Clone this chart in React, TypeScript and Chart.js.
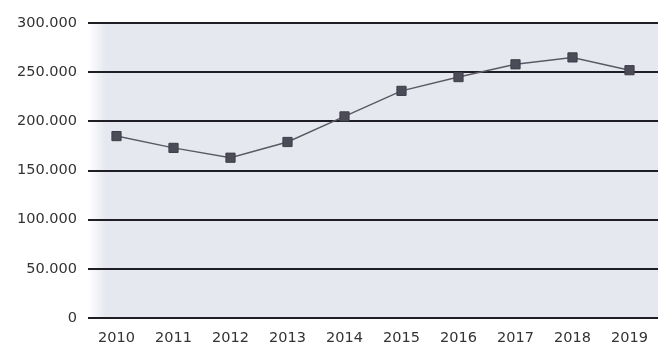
import React, { useEffect, useRef } from "react";
import { Chart, registerables } from "chart.js";

Chart.register(...registerables);

const years = ["2010", "2011", "2012", "2013", "2014", "2015", "2016", "2017", "2018", "2019"];
const values = [185000, 173000, 163000, 179000, 205000, 231000, 245000, 258000, 265000, 252000];
const yTicks = [0, 50000, 100000, 150000, 200000, 250000, 300000];

const fmt = (v: number) => (v === 0 ? "0" : String(v).replace(/\B(?=(\d{3})+(?!\d))/g, "."));

const bgPlugin = {
  id: "plotBg",
  beforeDraw(chart: any) {
    const { ctx, chartArea } = chart;
    const { left, right, top, bottom } = chartArea;
    ctx.save();
    const g = ctx.createLinearGradient(left, 0, left + 18, 0);
    g.addColorStop(0, "rgba(230,232,240,0)");
    g.addColorStop(1, "#e6e8f0");
    ctx.fillStyle = g;
    ctx.fillRect(left, top, right - left, bottom - top);
    ctx.restore();
  },
};

export default function App() {
  const ref = useRef<HTMLCanvasElement>(null);
  useEffect(() => {
    document.body.style.margin = "0";
    const chart = new Chart(ref.current!, {
      type: "line",
      data: {
        labels: years,
        datasets: [
          {
            data: values,
            borderColor: "#5a5a64",
            borderWidth: 1.5,
            pointStyle: "rect",
            pointRadius: 6.5,
            pointBackgroundColor: "#4c4c58",
            pointBorderColor: "#3e3e48",
            pointBorderWidth: 1,
            tension: 0,
          },
        ],
      },
      options: {
        animation: false,
        responsive: false,
        maintainAspectRatio: false,
        layout: { padding: { top: 23, right: 9, left: 0, bottom: 0 } },
        plugins: { legend: { display: false }, tooltip: { enabled: false } },
        scales: {
          x: {
            offset: true,
            grid: { display: false },
            border: { display: false },
            ticks: { color: "#333", font: { family: "DejaVu Sans", size: 14.5 }, padding: 4, maxRotation: 0 },
            afterFit: (s: any) => { s.height = 30; },
          },
          y: {
            min: 0,
            max: 300000,
            afterBuildTicks: (s: any) => { s.ticks = yTicks.map((v) => ({ value: v })); },
            grid: { color: "#1e1e24", lineWidth: 2, drawTicks: false },
            border: { display: false },
            ticks: {
              color: "#333",
              font: { family: "DejaVu Sans", size: 14.5 },
              padding: 11,
              callback: (v: any) => fmt(Number(v)),
            },
            afterFit: (s: any) => { s.width = 88; },
          },
        },
      },
      plugins: [bgPlugin],
    });
    return () => chart.destroy();
  }, []);
  return (
    <div style={{ width: 667, height: 348, background: "#fff" }}>
      <canvas ref={ref} width={667} height={348} style={{ display: "block" }} />
    </div>
  );
}
